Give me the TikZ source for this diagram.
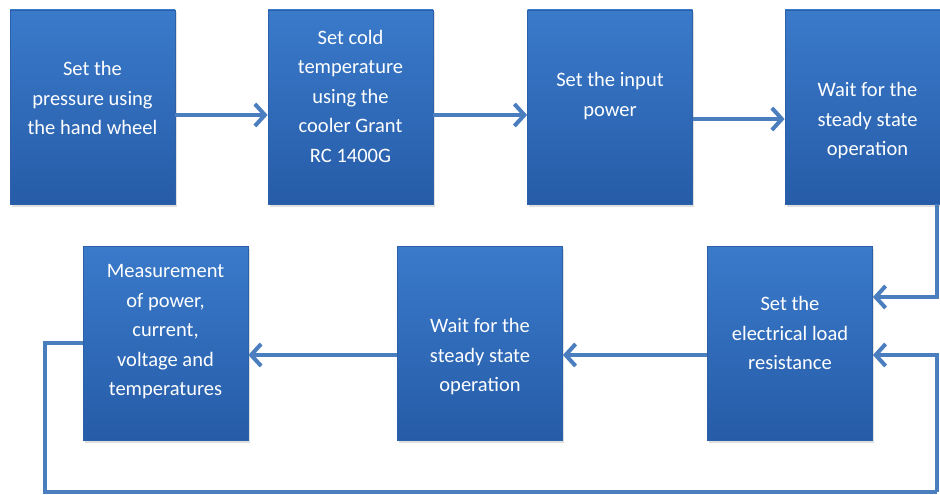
\documentclass[tikz,border=0pt]{standalone}
\usepackage{fontspec}
\setmainfont{Carlito}
\usepackage{tikz}
\usetikzlibrary{arrows.meta,shadows}

\definecolor{boxtop}{RGB}{58,122,202}
\definecolor{boxbot}{RGB}{38,92,168}
\definecolor{boxedge}{RGB}{44,96,168}
\definecolor{arrblue}{RGB}{74,126,190}

\tikzset{
  stepbox/.style={shading=axis, top color=boxtop, bottom color=boxbot,
    draw=boxedge, line width=0.8pt, minimum width=165pt, minimum height=194pt,
    inner sep=0pt, drop shadow={opacity=0.25, shadow xshift=1.5pt, shadow yshift=-2.5pt}},
  boxtext/.style={text=white, align=center, font=\fontsize{20.5}{29.5}\selectfont},
  arr/.style={arrblue, line width=4pt, -{Straight Barb[length=10pt, width=22pt]}},
  lin/.style={arrblue, line width=4pt}
}

\begin{document}
\begin{tikzpicture}[x=1pt, y=-1pt]
\useasboundingbox (0,0) rectangle (940,495);
\node[stepbox, label={[boxtext, yshift=9pt]center:{Set the\\pressure using\\the hand wheel}}] (b1) at (92.5,107) {};
\node[stepbox, label={[boxtext, yshift=11pt]center:{Set cold\\temperature\\using the\\cooler Grant\\RC 1400G}}] (b2) at (350.5,107) {};
\node[stepbox, label={[boxtext, yshift=11pt]center:{Set the input\\power}}] (b3) at (610,107) {};
\node[stepbox, label={[boxtext, yshift=-14pt]center:{Wait for the\\steady state\\operation}}] (b4) at (867.5,107) {};
\node[stepbox, label={[boxtext, yshift=10pt]center:{Set the\\electrical load\\resistance}}] (b5) at (790,343) {};
\node[stepbox, label={[boxtext, yshift=-14pt]center:{Wait for the\\steady state\\operation}}] (b6) at (480,343) {};
\node[stepbox, label={[boxtext, yshift=11pt]center:{Measurement\\of power,\\current,\\voltage and\\temperatures}}] (b7) at (165.5,343) {};
\coordinate (c1) at (45,492);
\coordinate (c2) at (937,492);
\draw[arr] ([yshift=-8pt]b1.east) -- ([yshift=-8pt]b2.west);
\draw[arr] ([yshift=-8pt]b2.east) -- ([yshift=-8pt]b3.west);
\draw[arr] ([yshift=-12pt]b3.east) -- ([yshift=-12pt]b4.west);
\draw[arr] ([xshift=69.5pt]b4.south) |- ([yshift=46pt]b5.east);
\draw[arr] ([yshift=-12pt]b5.west) -- ([yshift=-12pt]b6.east);
\draw[arr] ([yshift=-12pt]b6.west) -- ([yshift=-12pt]b7.east);
\draw[lin] (b7.west) -| (c1) -- (c2);
\draw[arr] (c2) |- ([yshift=-12pt]b5.east);
\end{tikzpicture}
\end{document}
